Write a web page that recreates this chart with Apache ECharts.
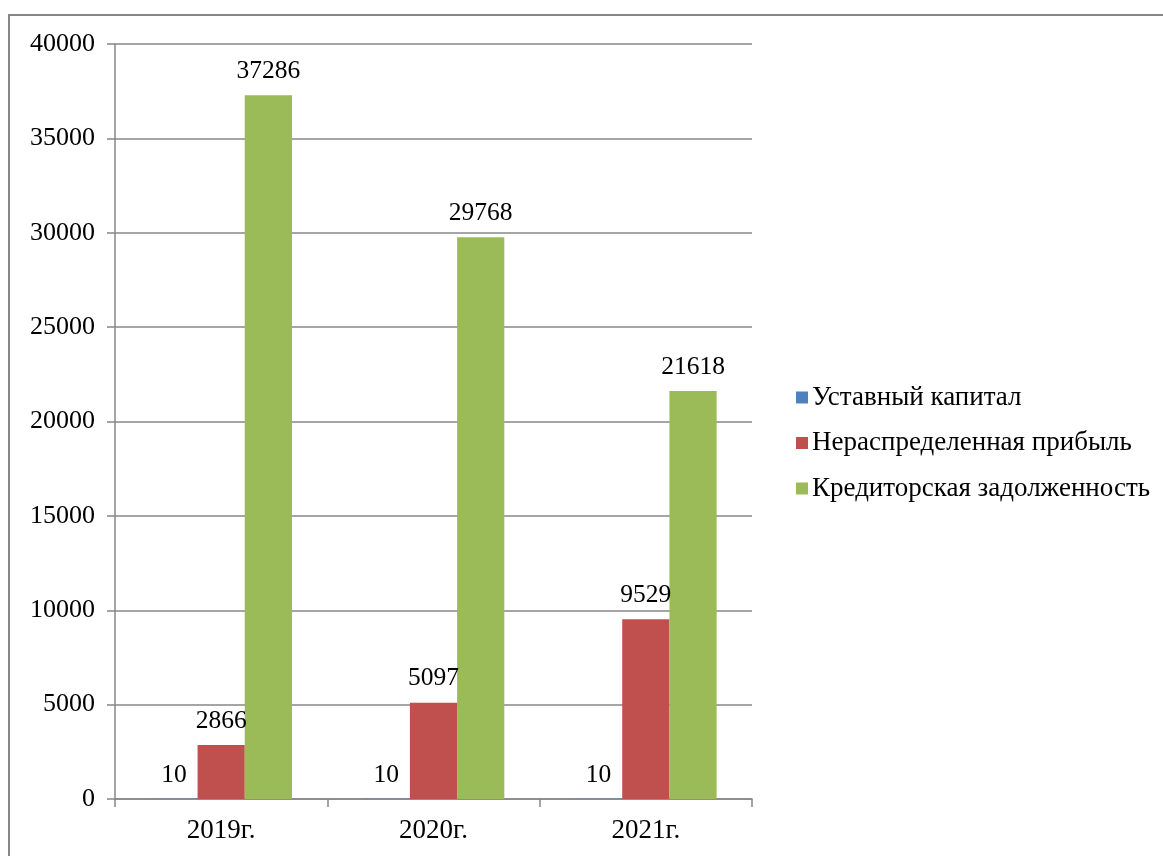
<!DOCTYPE html>
<html>
<head>
<meta charset="utf-8">
<script src="https://cdn.jsdelivr.net/npm/echarts@6/dist/echarts.min.js"></script>
<style>
  html, body { margin: 0; padding: 0; background: #fff; }
  #chart { width: 1163px; height: 856px; }
</style>
</head>
<body>
<div id="chart"></div>
<script>
// Балансовые показатели по годам
const years = ['2019г.', '2020г.', '2021г.'];
const seriesNames = ['Уставный капитал', 'Нераспределенная прибыль', 'Кредиторская задолженность'];
const charterCapital = [10, 10, 10];
const retainedEarnings = [2866, 5097, 9529];
const payables = [37286, 29768, 21618];
const seriesColors = ['#4f81bd', '#c0504d', '#9bbb59'];

const FONT = 'Liberation Serif';
const GRAY = '#878787';

const chart = echarts.init(document.getElementById('chart'), null, { renderer: 'canvas' });

function barSeries(name, data, color) {
  return {
    name: name,
    type: 'bar',
    data: data,
    barGap: '0%',
    barCategoryGap: '33.3%',
    itemStyle: { color: color },
    label: {
      show: true,
      position: 'top',
      distance: 11,
      color: '#000',
      fontFamily: FONT,
      fontSize: 25.5
    }
  };
}

chart.setOption({
  animation: false,
  backgroundColor: '#fff',
  textStyle: { fontFamily: FONT },
  graphic: [{
    type: 'rect',
    shape: { x: 9, y: 15, width: 1170, height: 860 },
    style: { fill: 'none', stroke: GRAY, lineWidth: 2 },
    silent: true
  }],
  grid: { left: 115, right: 411, top: 44, bottom: 57, containLabel: false },
  legend: {
    orient: 'vertical',
    left: 796,
    top: 384,
    padding: 0,
    itemWidth: 12,
    itemHeight: 12,
    itemGap: 18.5,
    icon: 'rect',
    textStyle: { fontFamily: FONT, fontSize: 27, lineHeight: 27, color: '#000', padding: [0, 0, 0, -1] },
    data: seriesNames
  },
  xAxis: {
    type: 'category',
    data: years,
    axisLine: { lineStyle: { color: GRAY, width: 1.5 } },
    axisTick: { show: true, length: 8, alignWithLabel: false, lineStyle: { color: GRAY, width: 1.5 } },
    axisLabel: { color: '#000', fontFamily: FONT, fontSize: 27, margin: 18 },
    splitLine: { show: false }
  },
  yAxis: {
    type: 'value',
    min: 0,
    max: 40000,
    interval: 5000,
    axisLine: { show: true, lineStyle: { color: GRAY, width: 1.5 } },
    axisTick: { show: true, length: 8, lineStyle: { color: GRAY, width: 1.5 } },
    axisLabel: { color: '#000', fontFamily: FONT, fontSize: 26, margin: 20, formatter: function (v) { return String(v); } },
    splitLine: { show: true, lineStyle: { color: GRAY, width: 1.5 } }
  },
  series: [
    barSeries(seriesNames[0], charterCapital, seriesColors[0]),
    barSeries(seriesNames[1], retainedEarnings, seriesColors[1]),
    barSeries(seriesNames[2], payables, seriesColors[2])
  ]
});
</script>
</body>
</html>
